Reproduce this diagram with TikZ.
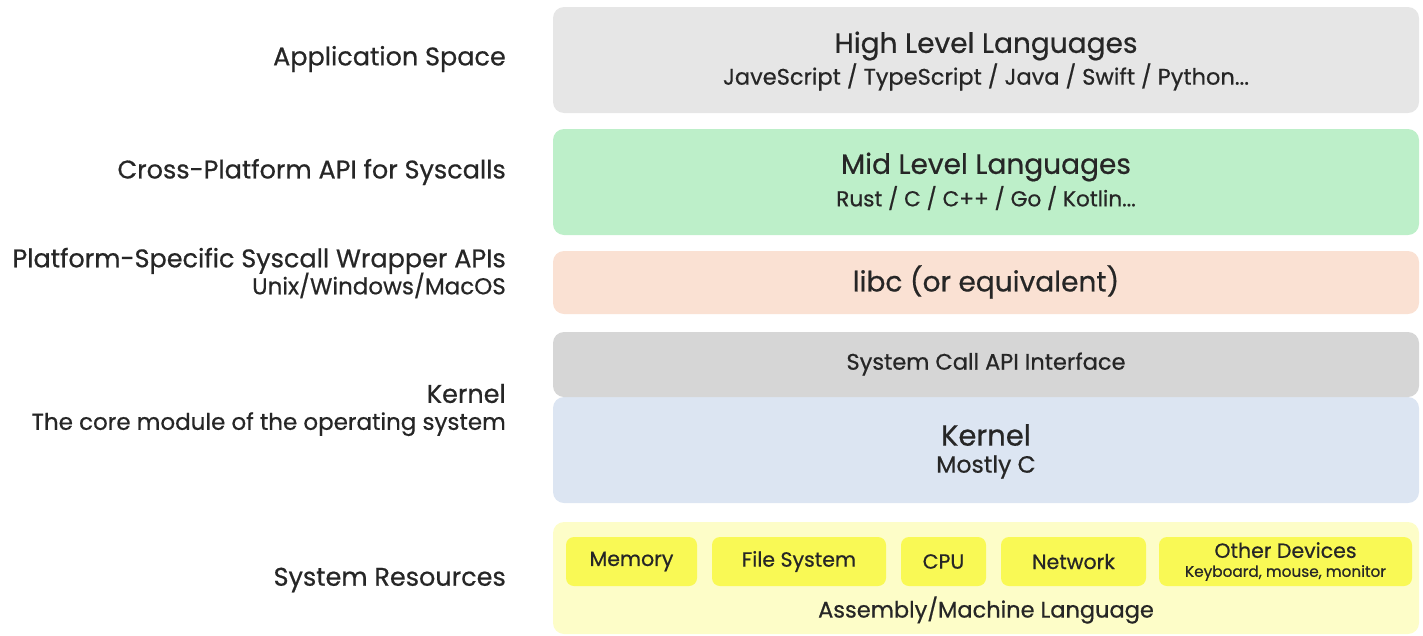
\documentclass[tikz,border=0pt]{standalone}
\usepackage{fontspec}
\setmainfont{Poppins}[FakeBold=0.6]
\usepackage{tikz}
\usetikzlibrary{positioning}

\definecolor{highgrey}{HTML}{E6E6E6}
\definecolor{midgreen}{HTML}{BDEFC9}
\definecolor{libcrose}{HTML}{FAE1D3}
\definecolor{callgrey}{HTML}{D6D6D6}
\definecolor{kernblue}{HTML}{DCE5F2}
\definecolor{reslight}{HTML}{FDFDC8}
\definecolor{resyellow}{HTML}{F9F955}

\begin{document}
\begin{tikzpicture}[
            x=1pt, y=-1pt,
            layer/.style={rectangle, rounded corners=11pt, minimum width=866pt, inner sep=0pt, align=center, text=black!85},
            resource/.style={rectangle, rounded corners=8pt, fill=resyellow, minimum height=49pt, inner sep=0pt, align=center, font=\fontsize{20.5}{24}\selectfont, text=black!85},
            sidelabel/.style={anchor=east, align=right, inner sep=0pt, text=black!85, font=\fontsize{25.5}{30}\selectfont},
            title/.style={font=\fontsize{28}{32}\selectfont, text=black!85},
            subtitle/.style={font=\fontsize{22.5}{26}\selectfont, text=black!85}
        ]

        \useasboundingbox (0,0) rectangle (1423,635);

        % Schichten
        \node[layer, fill=highgrey, minimum height=106pt] (high) at (986,60) {};
        \node[layer, fill=midgreen, minimum height=106pt] (mid) at (986,182) {};
        \node[layer, fill=libcrose, minimum height=63pt] (libc) at (986,282.5) {};
        \node[layer, fill=kernblue, minimum height=106pt] (kernel) at (986,450) {};
        \node[layer, fill=callgrey, minimum height=65pt] (syscall) at (986,364.5) {};
        \node[layer, fill=reslight, minimum height=112pt] (res) at (986,578) {};

        % Texte der Schichten
        \node[title] (hightitle) at (986,46) {High Level Languages};
        \node[subtitle] (highsub) at (986,77) {JaveScript / TypeScript / Java / Swift / Python...};
        \node[title] (midtitle) at (986,167) {Mid Level Languages};
        \node[subtitle, font=\fontsize{21.6}{26}\selectfont] (midsub) at (986,198) {Rust / C / C++ / Go / Kotlin...};
        \node[title] (libctitle) at (986,282) {libc (or equivalent)};
        \node[subtitle] (syscalltitle) at (986,364) {System Call API Interface};
        \node[title, font=\fontsize{29}{32}\selectfont] (kerneltitle) at (986,435) {Kernel};
        \node[subtitle, font=\fontsize{23.5}{26}\selectfont] (kernelsub) at (986,467) {Mostly C};
        \node[subtitle] (asm) at (986,610) {Assembly/Machine Language};

        % Ressourcen
        \node[resource, minimum width=131pt] (memory) at (631.5,561.5) {Memory};
        \node[resource, minimum width=174pt] (files) at (799,561.5) {File System};
        \node[resource, minimum width=85pt] (cpu) at (943.5,561.5) {CPU};
        \node[resource, minimum width=145pt] (network) at (1073.5,561.5) {Network};
        \node[resource, minimum width=253pt] (devices) at (1285.5,561.5) {Other Devices\\[-5pt]{\fontsize{15.3}{18}\selectfont Keyboard, mouse, monitor}};

        % Beschriftung links
        \node[sidelabel] (appspace) at (506,59) {Application Space};
        \node[sidelabel] (crossapi) at (506,172) {Cross-Platform API for Syscalls};
        \node[sidelabel] (wrapper) at (506,273) {Platform-Specific Syscall Wrapper APIs\\[-3pt]{\fontsize{23}{27}\selectfont Unix/Windows/MacOS}};
        \node[sidelabel] (kernlabel) at (506,410) {Kernel\\[-3pt]{\fontsize{23}{27}\selectfont The core module of the operating system}};
        \node[sidelabel] (reslabel) at (506,580) {System Resources};

    \end{tikzpicture}
\end{document}
